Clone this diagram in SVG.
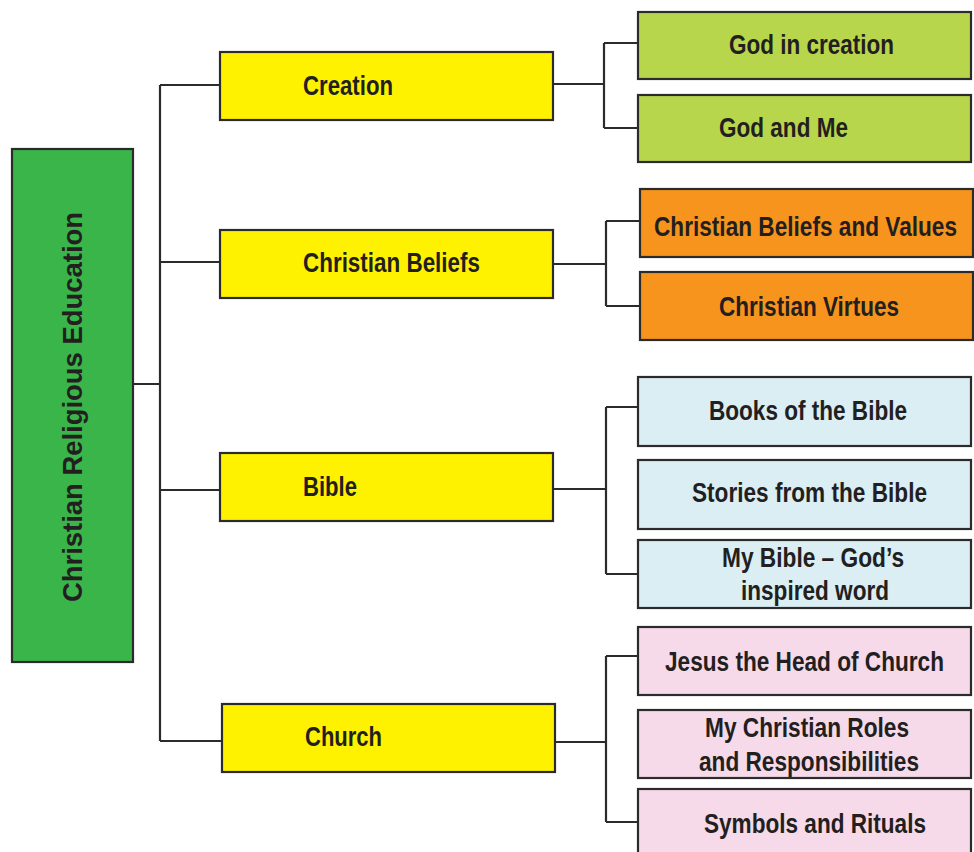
<svg xmlns="http://www.w3.org/2000/svg" width="974" height="852" viewBox="0 0 974 852">
<style>
rect{stroke:#2b2b2b;stroke-width:2.2}
.l1{fill:#fff200}
.root{fill:#39b54a}
.g{fill:#b8d64b}
.o{fill:#f7941d}
.b{fill:#daeef3}
.p{fill:#f6dae9}
text{font-family:"Liberation Sans Narrow","Liberation Sans",Arial,sans-serif;font-weight:bold;font-size:28px;fill:#231f20}
#connectors path{fill:none;stroke:#2b2b2b;stroke-width:2.2}
</style>
<rect width="974" height="852" fill="#ffffff" style="stroke:none"/>
<g id="connectors">
<path d="M133,384 H160 M160,85 V741 M160,85 H220 M160,262 H220 M160,490 H220 M160,741 H222"/>
<path d="M553,84 H604 M604,43 V128 M604,43 H638 M604,128 H638"/>
<path d="M553,264 H606 M606,221 V306 M606,221 H640 M606,306 H640"/>
<path d="M553,489 H606 M606,407 V574 M606,407 H638 M606,574 H638"/>
<path d="M555,742 H606 M606,656 V822 M606,656 H638 M606,822 H638"/>
</g>
<g id="root"><rect class="root" x="12" y="149" width="121" height="513"/><text transform="translate(82,602) rotate(-90)" font-size="31" textLength="390" lengthAdjust="spacingAndGlyphs">Christian Religious Education</text></g>
<g id="creation"><rect class="l1" x="220" y="52" width="333" height="68"/><text x="303" y="95" textLength="90" lengthAdjust="spacingAndGlyphs">Creation</text></g>
<g id="beliefs"><rect class="l1" x="220" y="230" width="333" height="68"/><text x="303" y="272" textLength="177" lengthAdjust="spacingAndGlyphs">Christian Beliefs</text></g>
<g id="bible"><rect class="l1" x="220" y="453" width="333" height="68"/><text x="303" y="496" textLength="54" lengthAdjust="spacingAndGlyphs">Bible</text></g>
<g id="church"><rect class="l1" x="222" y="704" width="333" height="68"/><text x="305" y="746" textLength="77" lengthAdjust="spacingAndGlyphs">Church</text></g>
<g id="god-in-creation"><rect class="g" x="638" y="12" width="333" height="67"/><text x="729" y="54" textLength="165" lengthAdjust="spacingAndGlyphs">God in creation</text></g>
<g id="god-and-me"><rect class="g" x="638" y="95" width="333" height="67"/><text x="719" y="137" textLength="129" lengthAdjust="spacingAndGlyphs">God and Me</text></g>
<g id="beliefs-values"><rect class="o" x="640" y="189" width="333" height="68"/><text x="654" y="236" textLength="303" lengthAdjust="spacingAndGlyphs">Christian Beliefs and Values</text></g>
<g id="virtues"><rect class="o" x="640" y="272" width="333" height="68"/><text x="719" y="316" textLength="180" lengthAdjust="spacingAndGlyphs">Christian Virtues</text></g>
<g id="books"><rect class="b" x="638" y="377" width="333" height="69"/><text x="709" y="420" textLength="198" lengthAdjust="spacingAndGlyphs">Books of the Bible</text></g>
<g id="stories"><rect class="b" x="638" y="460" width="333" height="69"/><text x="692" y="502" textLength="235" lengthAdjust="spacingAndGlyphs">Stories from the Bible</text></g>
<g id="my-bible"><rect class="b" x="638" y="540" width="333" height="68"/><text x="722" y="567" textLength="182" lengthAdjust="spacingAndGlyphs">My Bible – God’s</text><text x="741" y="600" textLength="148" lengthAdjust="spacingAndGlyphs">inspired word</text></g>
<g id="jesus"><rect class="p" x="638" y="627" width="333" height="68"/><text x="665" y="671" textLength="279" lengthAdjust="spacingAndGlyphs">Jesus the Head of Church</text></g>
<g id="roles"><rect class="p" x="638" y="710" width="333" height="68"/><text x="705" y="737" textLength="204" lengthAdjust="spacingAndGlyphs">My Christian Roles</text><text x="699" y="771" textLength="220" lengthAdjust="spacingAndGlyphs">and Responsibilities</text></g>
<g id="symbols"><rect class="p" x="638" y="789" width="333" height="80"/><text x="704" y="833" textLength="222" lengthAdjust="spacingAndGlyphs">Symbols and Rituals</text></g>
</svg>
